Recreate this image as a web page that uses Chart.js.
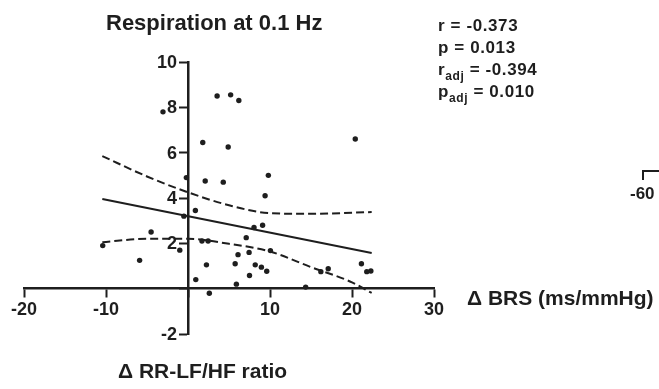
<!DOCTYPE html>
<html>
<head>
<meta charset="utf-8">
<script src="https://cdn.jsdelivr.net/npm/chart.js@4.4.1/dist/chart.umd.min.js"></script>
<style>
  html, body { margin: 0; padding: 0; background: #fff; }
  #wrap { position: relative; width: 659px; height: 389px; }
</style>
</head>
<body>
<div id="wrap"><canvas id="brsChart"></canvas></div>
<script>
// Change in RR-LF/HF ratio (x) vs change in BRS (y), one dot per subject
const subjX = [-10.4, -5.9, -4.5, -3.05, -1.0, -0.5, -0.2, 0.9, 0.95, 1.8, 1.7, 2.45, 2.1, 2.25, 2.6,
               3.55, 4.3, 4.9, 5.2, 5.75, 5.9, 6.1, 6.2, 7.1, 7.45, 7.5, 8.05, 8.2, 8.95, 9.1,
               9.4, 9.6, 9.8, 10.05, 14.35, 16.2, 17.1, 20.4, 21.15, 21.8, 22.3];
const subjY = [1.9, 1.25, 2.5, 7.8, 1.7, 3.2, 4.9, 3.45, 0.4, 6.45, 2.1, 2.1, 4.75, 1.05, -0.2,
               8.5, 4.7, 6.25, 8.55, 1.1, 0.2, 1.5, 8.3, 2.25, 1.6, 0.58, 2.7, 1.05, 0.95, 2.8,
               4.1, 0.77, 5.0, 1.68, 0.07, 0.75, 0.88, 6.6, 1.1, 0.75, 0.78];

// Regression line end points
const fitX = [-10.45, 22.4];
const fitY = [3.96, 1.57];

// 95% confidence band, read at these x positions
const bandX = [-10.45, -5, 0, 5, 10, 15, 20, 22.4];
const bandUpper = [5.85, 4.95, 4.25, 3.68, 3.33, 3.3, 3.35, 3.38];
const bandLower = [2.05, 2.2, 2.2, 1.98, 1.64, 0.95, 0.28, -0.19];

// Axis ticks
const xTicks = [-20, -10, 0, 10, 20, 30];
const yTicks = [-2, 0, 2, 4, 6, 8, 10];

// Statistics box
const statLines = [
  ['r', '', ' = -0.373'],
  ['p', '', ' = 0.013'],
  ['r', 'adj', ' = -0.394'],
  ['p', 'adj', ' = 0.010']
];

const INK = '#1e1e1e';
const FONT = '"Liberation Sans", Arial, Helvetica, sans-serif';

function toPoints(xs, ys) {
  return xs.map((x, i) => ({ x: x, y: ys[i] }));
}

// Titles, stats, y tick labels and the cut-off neighbour axis
const textPlugin = {
  id: 'panelText',
  afterDraw(chart) {
    const ctx = chart.ctx;
    const xs = chart.scales.x;
    const ys = chart.scales.y;
    ctx.save();
    ctx.fillStyle = INK;

    // y tick labels sit left of the tick marks on the crossing axis
    const axisX = xs.getPixelForValue(0);
    ctx.font = 'bold 18px ' + FONT;
    ctx.textAlign = 'right';
    ctx.textBaseline = 'middle';
    yTicks.forEach(v => {
      if (v === 0) return;
      ctx.fillText(String(v), axisX - 11, ys.getPixelForValue(v) + 1);
    });

    ctx.textBaseline = 'alphabetic';
    ctx.textAlign = 'left';
    ctx.font = 'bold 22px ' + FONT;
    ctx.fillText('Respiration at 0.1 Hz', 106, 30);

    let baseY = 31;
    ctx.letterSpacing = '0.6px';
    statLines.forEach(line => {
      let x = 438;
      ctx.font = 'bold 17px ' + FONT;
      ctx.fillText(line[0], x, baseY);
      x += ctx.measureText(line[0]).width;
      if (line[1]) {
        ctx.font = 'bold 12px ' + FONT;
        ctx.fillText(line[1], x, baseY + 5);
        x += ctx.measureText(line[1]).width;
      }
      ctx.font = 'bold 17px ' + FONT;
      ctx.fillText(line[2], x, baseY);
      baseY += 22;
    });
    ctx.letterSpacing = '0px';

    ctx.font = 'bold 21px ' + FONT;
    ctx.fillText('\u0394 BRS (ms/mmHg)', 467, 305);
    ctx.fillText('\u0394 RR-LF/HF ratio', 118, 378);

    // fragment of the next panel's axis
    ctx.strokeStyle = INK;
    ctx.lineWidth = 2;
    ctx.beginPath();
    ctx.moveTo(643, 180);
    ctx.lineTo(643, 171);
    ctx.lineTo(660, 171);
    ctx.stroke();
    ctx.font = 'bold 17px ' + FONT;
    ctx.fillText('-60', 630, 199);
    ctx.restore();
  }
};

const ctx = document.getElementById('brsChart').getContext('2d');
const brsChart = new Chart(ctx, {
  type: 'scatter',
  data: {
    datasets: [
      {
        label: 'subjects',
        data: toPoints(subjX, subjY),
        backgroundColor: INK,
        borderColor: INK,
        pointRadius: 2.7,
        pointBorderWidth: 0
      },
      {
        label: 'fit',
        data: toPoints(fitX, fitY),
        showLine: true,
        borderColor: INK,
        borderWidth: 2,
        pointRadius: 0
      },
      {
        label: 'upper',
        data: toPoints(bandX, bandUpper),
        showLine: true,
        borderColor: INK,
        borderWidth: 2,
        borderDash: [8, 4],
        cubicInterpolationMode: 'monotone',
        pointRadius: 0
      },
      {
        label: 'lower',
        data: toPoints(bandX, bandLower),
        showLine: true,
        borderColor: INK,
        borderWidth: 2,
        borderDash: [8, 4],
        cubicInterpolationMode: 'monotone',
        pointRadius: 0
      }
    ]
  },
  options: {
    responsive: true,
    maintainAspectRatio: false,
    animation: false,
    layout: { padding: { left: 24, right: 225, top: 62, bottom: 55 } },
    plugins: {
      legend: { display: false },
      tooltip: { enabled: false }
    },
    scales: {
      x: {
        type: 'linear',
        position: { y: 0 },
        min: xTicks[0],
        max: xTicks[xTicks.length - 1],
        afterBuildTicks: axis => { axis.ticks = xTicks.map(v => ({ value: v })); },
        grid: { drawOnChartArea: false, drawTicks: true, tickLength: 8, tickWidth: 2, color: INK },
        border: { display: true, color: INK, width: 2.5 },
        ticks: {
          color: INK,
          padding: 3,
          maxRotation: 0,
          font: { family: FONT, size: 18, weight: 'bold' },
          callback: v => (v === 0 ? '' : v)
        }
      },
      y: {
        type: 'linear',
        position: { x: 0 },
        min: yTicks[0],
        max: yTicks[yTicks.length - 1],
        afterBuildTicks: axis => { axis.ticks = yTicks.map(v => ({ value: v })); },
        grid: { drawOnChartArea: false, drawTicks: true, tickLength: 8, tickWidth: 2, color: INK },
        border: { display: true, color: INK, width: 2.5 },
        ticks: { display: false }
      }
    }
  },
  plugins: [textPlugin]
});
</script>
</body>
</html>
